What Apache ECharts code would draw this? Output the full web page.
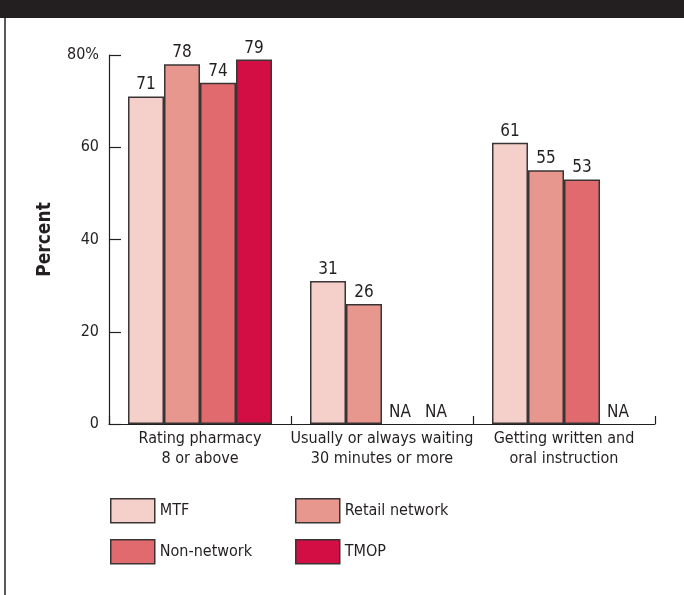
<!DOCTYPE html>
<html lang="en">
<head>
  <meta charset="utf-8">
  <script src="https://cdn.jsdelivr.net/npm/echarts@6/dist/echarts.min.js"></script>
</head>
<body style="margin:0; background:#fff">
  <div id="chart" style="width:684px; height:595px"></div>
  <script>
    // categories and values (null = NA)
    var categories = ['Rating pharmacy\n8 or above', 'Usually or always waiting\n30 minutes or more', 'Getting written and\noral instruction'];
    var seriesNames = ['MTF', 'Retail network', 'Non-network', 'TMOP'];
    var mtf = [71, 31, 61];
    var retail = [78, 26, 55];
    var nonNetwork = [74, null, 53];
    var tmop = [79, null, null];
    var colors = ['#f5d0ca', '#e8978f', '#e06a6e', '#d30e45'];

    var font = "'Liberation Sans Narrow', 'DejaVu Sans Condensed', Roboto, sans-serif";
    var ink = '#231f20';

    var chart = echarts.init(document.getElementById('chart'));

    function toData(arr) {
      return arr.map(function (v) {
        if (v === null) {
          return { value: 0, itemStyle: { borderWidth: 0 }, label: { formatter: 'NA' } };
        }
        return v;
      });
    }

    var allData = [mtf, retail, nonNetwork, tmop];
    var series = [];
    for (var i = 0; i < seriesNames.length; i++) {
      series.push({
        name: seriesNames[i],
        type: 'bar',
        barWidth: 36,
        barGap: '0%',
        data: toData(allData[i]),
        itemStyle: { color: colors[i], borderColor: '#3a3434', borderWidth: 1.5 },
        label: { show: true, position: 'top', distance: 3, color: ink, fontFamily: font, fontSize: 17 }
      });
    }

    var legendPos = [[110, 498], [295, 498], [110, 539], [295, 539]];
    var legends = [];
    for (var j = 0; j < seriesNames.length; j++) {
      legends.push({
        data: [seriesNames[j]],
        left: legendPos[j][0],
        top: legendPos[j][1],
        padding: 0,
        itemWidth: 44,
        itemHeight: 24,
        itemGap: 8,
        icon: 'rect',
        selectedMode: false,
        itemStyle: { borderColor: '#3a3434', borderWidth: 1.5 },
        textStyle: { color: ink, fontFamily: font, fontSize: 16, padding: [12, 0, 0, 0] }
      });
    }

    var option = {
      animation: false,
      grid: { left: 109, right: 29, top: 55, bottom: 171, containLabel: false },
      legend: legends,
      graphic: [
        { type: 'rect', shape: { x: 0, y: 0, width: 684, height: 18 }, style: { fill: '#231f20' } },
        { type: 'line', shape: { x1: 5, y1: 18, x2: 5, y2: 595 }, style: { stroke: '#231f20', lineWidth: 1.5 } }
      ],
      xAxis: {
        type: 'category',
        data: categories,
        axisLine: { lineStyle: { color: ink, width: 1.2 } },
        axisTick: { show: true, inside: true, length: 8, lineStyle: { color: ink, width: 1.2 } },
        axisLabel: { interval: 0, color: ink, fontFamily: font, fontSize: 16, lineHeight: 20, margin: 5 }
      },
      yAxis: {
        type: 'value',
        min: 0,
        max: 80,
        interval: 20,
        name: 'Percent',
        nameLocation: 'middle',
        nameGap: 54,
        nameTextStyle: { color: ink, fontFamily: font, fontSize: 19, fontWeight: 'bold' },
        splitLine: { show: false },
        axisLine: { show: true, lineStyle: { color: ink, width: 1.2 } },
        axisTick: { show: true, inside: true, length: 12, lineStyle: { color: ink, width: 1.2 } },
        axisLabel: {
          color: ink, fontFamily: font, fontSize: 16, margin: 10,
          formatter: function (v) { return v === 80 ? '80%' : v; }
        }
      },
      series: series
    };

    chart.setOption(option);
  </script>
</body>
</html>
